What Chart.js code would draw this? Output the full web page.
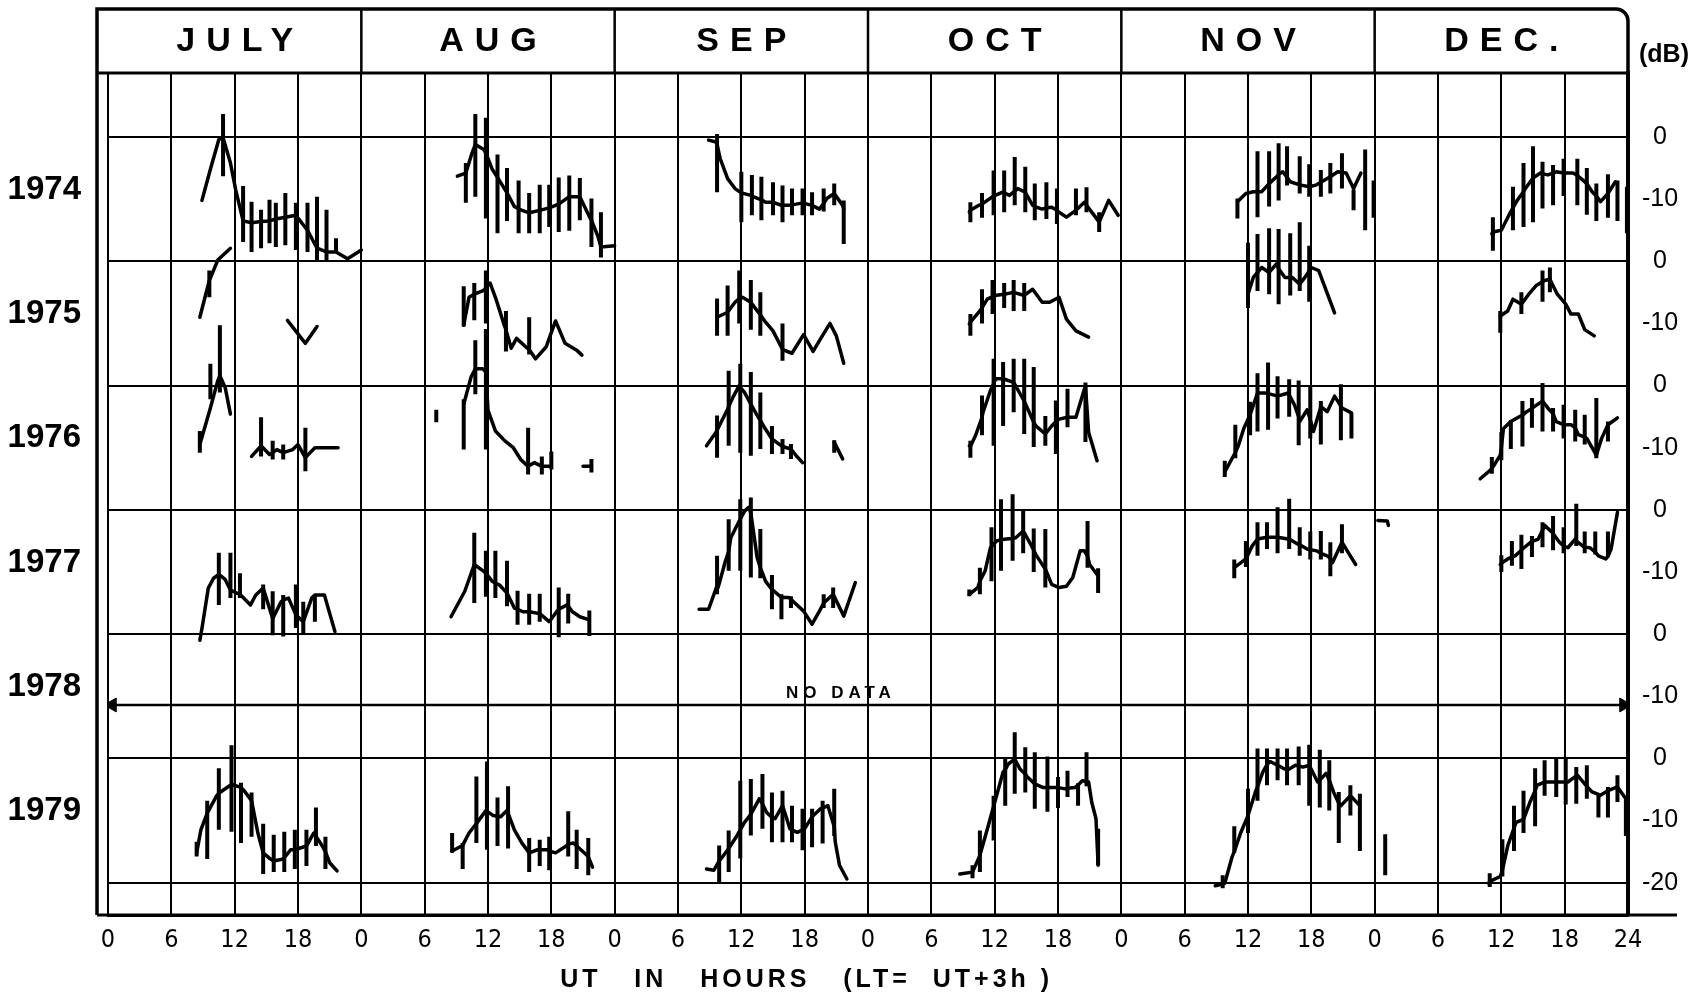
<!DOCTYPE html>
<html>
<head>
<meta charset="utf-8">
<script src="https://cdn.jsdelivr.net/npm/chart.js@4.4.0/dist/chart.umd.min.js"></script>
<style>
  html, body { margin: 0; padding: 0; background: #fff; }
  canvas { display: block; }
</style>
</head>
<body>
<canvas id="noiseChart" width="1704" height="997"></canvas>
<script>
const months = ['JULY', 'AUG', 'SEP', 'OCT', 'NOV', 'DEC.'];
const years = ['1974', '1975', '1976', '1977', '1978', '1979'];
const dbTickValues = [0, -10, -20, -30, -40, -50, -60, -70, -80, -90, -100, -110, -120];
const dbTickLabels = ['0', '-10', '0', '-10', '0', '-10', '0', '-10', '0', '-10', '0', '-10', '-20'];

// each row: [UT hour, mean dB, bar top dB, bar bottom dB]; null = pen lifted
const jul74 = [[8.9,-10.2],[9.7,-5.2],[10.5,-0.4],[10.9,-0.1,3.7,-6.3],[11.6,-4.2],[12.1,-8.5],[12.8,-13.5,-7.9,-16.9],[13.6,-13.8,-10.4,-18.5],[14.5,-13.6,-11.7,-17.9],[15.3,-13.5,-10.1,-17.1],[15.9,-13.2,-10.6,-17.7],[16.8,-12.9,-9,-17.4],[17.8,-12.6,-10.6,-18.2],[18.9,-15,-10.6,-18.5],[19.8,-17.9,-9.6,-19.8],[20.7,-18.5,-11.7,-19.8],[21.6,-18.5,-16.3,-18.6],[22.7,-19.6],[24,-18.2]];
const jul75 = [[8.7,-9],[9.6,-3.1,-1.5,-5.8],[10.4,0.2],[11.6,2.1],null,[17,-9.5],[18.7,-13.2],[19.8,-10.5]];
const jul76 = [[8.7,-9.5,-7.3,-10.8],[9.7,-3.6,3.5,-2.2],[10.4,0.8],[10.6,1.6,9.7,-1.1],[11.1,-0.3],[11.6,-4.6],null,[13.6,-11.4],[14.5,-9.7,-5.1,-11.4],[15.3,-11.1],[15.6,-10.8,-8.9,-11.9],[16,-10.3],[16.6,-10.8,-9.5,-11.9],[17.5,-10.3],[18,-9.5],[18.7,-11.6,-6.8,-13.8],[19.6,-10],[20.5,-10],[21.8,-10]];
const jul77 = [[8.7,-21],[8.9,-19.1],[9.5,-12.6],[10,-11],[10.5,-10.4,-6.9,-15.3],[11.1,-11.2],[11.6,-12.9,-6.9,-14.2],[12.2,-13.4],[12.5,-13.6,-10.2,-14.2],[13.5,-15.3],[14,-13.7],[14.7,-12.6,-12,-16],[15.6,-17.5,-13.1,-20.2],[16.4,-14.8],[16.6,-14.5,-13.7,-20.4],[17.1,-14.2],[17.8,-16.9,-12,-19],[18.5,-18,-14.8,-19.9],[19.3,-14.2],[19.6,-13.7,-13.7,-18],[20.5,-13.7],[21.5,-19.6]];
const jul79 = [[8.4,-15.2,-13.4,-15.8],[8.8,-11.5],[9.4,-8.8,-6.8,-16.2],[10.3,-6],[10.5,-5.6,-1.6,-11.5],[11,-5],[11.7,-4.2,2.1,-11.8],[12.3,-4.5],[12.6,-4.7,-3.9,-13.6],[12.9,-5.2],[13.6,-6.8,-5.5,-12.6],[14.2,-12],[14.7,-15.2,-10.5,-18.6],[15.4,-16.2],[15.7,-16.5,-12.3,-18.3],[16.6,-16.2],[16.7,-16,-11.8,-18.3],[17.3,-14.7],[17.7,-14.7,-11.5,-17.8],[18.8,-14.1,-11.5,-17.3],[19.5,-12],[19.7,-12.5,-7.9,-14.1],[20.3,-14.1],[20.6,-15,-12.6,-17.8],[21,-16.8],[21.7,-18.1]];

const aug74 = [[9.1,-6.3],[9.9,-5.8,-4.2,-10.6],[10.5,-2.5],[10.8,-1.2,3.7,-9.6],[11.6,-2],[11.8,-2.6,3.1,-13.1],[12.4,-5.2],[12.9,-6.5,-2.8,-15.5],[13.8,-9,-5,-13.5],[14.5,-11.2],[14.9,-11.6,-7,-15.5],[15.9,-12.2,-9,-15.5],[16.9,-11.8,-7.7,-15.5],[17.8,-11.4,-7.7,-14.5],[18.7,-10.8,-6.5,-15.3],[19.7,-9.6,-6.2,-15.1],[20.7,-9.6,-6.6,-13.4],[21.6,-12.8],[21.8,-13.4,-9.9,-17.7],[22.4,-15.9],[22.7,-17.7,-12.1,-19.4],[24,-17.5]];
const aug75 = [[9.7,-10.3,-4,-10.5],[10.2,-5.8],[10.7,-5.3,-3.5,-9.5],[11.6,-4.7],[11.8,-4.2,-1.5,-10],[12.2,-3.5],[12.7,-5.8],[13.1,-7.9],[13.5,-10.1],[13.7,-11,-8,-14.5],[14.2,-14],[14.7,-12.4],[15.6,-13.8],[15.9,-14.2,-9,-15],[16.5,-15.7],[17.5,-13.8],[18.4,-9.6],[19.3,-13.2],[20.4,-14.3],[20.9,-15.1]];
const aug76 = [[7.1,null,-3.9,-5.9],[9.7,-3,-2.2,-10.3],[10.4,1.4],[10.8,2.7,7.3,-1.4],[11.5,2.7],[11.8,2.2,9.1,-10.3],[12,-4],[12.7,-7.3],[13.6,-8.9],[14.4,-10],[15.1,-11.9],[15.8,-13,-6.8,-14.3],[16.4,-12.4],[17.1,-13,-11.4,-14.3],[18,-13,-10.6,-13.5],null,[21,-13],[21.8,-13,-11.8,-14]];
const aug77 = [[8.5,-17.2],[9.8,-13.1],[10.7,-8.8,-3.7,-15],[11.6,-9.9],[11.8,-10.2,-6.6,-14],[12.4,-11.5],[12.7,-11.8,-6.6,-14.2],[13.1,-12.1],[13.8,-13.4,-8.2,-15.5],[14.5,-15.8],[14.8,-16,-13,-18.5],[15.3,-16.4],[15.9,-16.4,-13.5,-18.5],[16.9,-16.7,-13.5,-18],[17.8,-18],[18.5,-16.4],[18.7,-16,-12.5,-20.5],[19.5,-15.3],[19.6,-15.5,-13.5,-18.3],[20,-16.4],[20.7,-17.2],[21.6,-17.7,-16.2,-20.3]];
const aug79 = [[8.6,-14.9,-12,-15.2],[9.5,-14.1],[9.6,-14,-13.6,-17.8],[10.2,-12],[10.9,-10.5,-2.9,-13.6],[11.8,-8.4],[11.9,-8.5,-0.5,-14.7],[12.5,-9.2],[12.9,-9.3,-6.3,-14.1],[13.2,-9.4],[13.8,-8.4],[13.9,-8.8,-4.5,-14.5],[14.5,-11.5],[15.2,-13.6],[15.9,-15.2,-12.8,-18.3],[16.7,-14.7],[16.9,-14.7,-13.1,-17.3],[17.6,-14.7],[17.8,-14.9,-12.6,-18],[18.4,-15.2],[19.4,-14.1],[19.6,-13.8,-8.5,-15.8],[20.1,-13.6],[20.4,-14.1,-11.5,-17.8],[20.8,-14.7],[21.5,-15.8,-12.8,-18.8],[21.9,-17.5]];

const sep74 = [[8.9,-0.5],[9.6,-0.8],[9.7,-1.2,0.5,-8.9],[10,-3.5],[10.7,-6.7],[11.4,-8.3],[12,-9,-5.6,-13.7],[12.9,-9.4],[13,-9.5,-6.1,-12.6],[13.6,-9.9],[13.9,-10.1,-6.4,-13.4],[14.3,-10.5],[15,-10.5,-7.3,-12.6],[15.8,-11],[15.9,-11,-7.8,-13.7],[16.5,-11],[16.8,-10.9,-8.3,-12.6],[17.2,-10.8],[17.8,-10.6,-8.3,-12.6],[18.7,-11,-8.9,-12.6],[19.4,-11.6],[19.8,-10.7,-8.3,-12],[20.1,-9.9],[20.8,-9.1,-7.5,-11],[21.6,-11],[21.7,-11.5,-10.2,-17.2]];
const sep75 = [[9.7,-9,-6,-12],[10.7,-8.2,-3.9,-12],[11.4,-6.6],[11.8,-6,-1.5,-10],[12.1,-5.8],[12.9,-6.6,-3,-11],[13.6,-8.2],[13.8,-8.6,-5,-12],[14.3,-9.8],[15,-11.2],[15.9,-14.2,-10,-16],[16.8,-14.8],[17.9,-11.8],[18.8,-14.5],[19.5,-12.5],[20.4,-10],[21,-12],[21.7,-16.4]];
const sep76 = [[8.7,-9.7],[9.6,-7.5],[9.7,-7.2,-4.8,-11.6],[10.7,-3.8],[10.8,-3.4,2.4,-9.7],[11.2,-1.9],[11.8,0],[11.9,-0.3,3.5,-10.8],[12.3,-1.1],[12.9,-3,2.2,-11.3],[13.6,-5.1],[13.8,-5.6,-1.1,-10.2],[14.1,-6.5],[14.9,-8.6,-6.5,-11],[15.8,-9.7],[15.9,-9.8,-8.6,-11],[16.7,-10.2,-9.4,-11.8],[17.2,-11.3],[17.8,-12.4],null,[20.8,-9.1,-8.8,-10.8],[21.6,-11.8]];
const sep77 = [[8,-16],[8.9,-16],[9.7,-12.2,-7.4,-13.6],[9.8,-12.5],[10.5,-8.2],[10.8,-6.7,-1.5,-9.8],[11,-4.5],[11.8,-1.8],[11.9,-1.5,1.7,-9.8],[12.3,-0.2],[12.7,0.4],[12.9,-0.5,2,-10.9],[13.5,-7.7],[13.8,-9.3,-3.1,-11],[14.3,-11.5],[14.9,-12.8,-10.5,-16],[15.8,-14.1,-13.6,-17.6],[16.5,-14.1],[16.7,-14.4,-13.9,-15.8],[17.2,-15.2],[17.9,-16.3],[18.7,-18.4],[19.4,-16.3],[19.8,-15,-13.6,-15.8],[20.7,-13.6,-12.5,-15.8],[21.7,-17.1],[22.8,-11.7]];
const sep79 = [[8.7,-17.8],[9.4,-18],[9.9,-16.5,-14,-19.9],[10.1,-16.1],[10.8,-14.5,-11.6,-18.3],[11.6,-12.4],[11.9,-11.5,-3.6,-16.1],[12.3,-10.3],[12.9,-9,-3.3,-12.4],[13.7,-6.5],[14,-7.3,-2.5,-11.3],[14.4,-8.7],[14.9,-9.5,-5.5,-13.5],[15.2,-9.7],[15.9,-7.6,-5.2,-13.5],[16.6,-11.3],[16.8,-11.5,-7.6,-13.5],[17.3,-11.9],[17.8,-11.5,-8.1,-14.8],[18,-11.3],[18.7,-9.4,-8.1,-14.3],[19.5,-8.1],[19.7,-8,-6.8,-13.7],[20.2,-7.6],[20.8,-11,-4.9,-12.5],[20.9,-13.5],[21.3,-17.2],[22,-19.4]];

const oct74 = [[9.6,-12.1],[9.7,-11.8,-10.5,-13.7],[10.5,-11],[10.8,-10.8,-9,-13],[11.3,-10.2],[11.9,-9.5,-5.4,-12.6],[12.7,-8.9],[12.9,-9,-5.4,-12.1],[13.4,-9.4],[13.9,-8.7,-3.2,-11],[14.2,-8.3],[14.9,-8.9,-4.8,-12.1],[15.6,-11],[15.8,-11.2,-7.5,-13.4],[16.5,-11.6],[16.9,-11.4,-7.3,-13.2],[17.4,-11.3],[17.9,-11.8,-8.3,-14],[18.1,-12.1],[18.8,-12.9],[19.7,-11.8,-8.3,-12.6],[20.5,-10.5],[20.7,-11,-8.1,-12.1],[21.2,-12.1],[21.9,-13.7,-12.1,-15.3],[22.8,-10.2],[23.7,-12.6]];
const oct75 = [[9.6,-10.1],[9.7,-9.8,-8.5,-12],[10.5,-8.2],[10.8,-7.5,-4.5,-10],[11.3,-6.1],[11.8,-5.7,-3,-8.5],[12,-5.5],[12.9,-5.3,-3.5,-7.5],[13.8,-5,-3,-8],[14.8,-5.5,-3.5,-8],[15.6,-4.5],[16.5,-6.6],[17.2,-6.6],[18.1,-5.8],[18.8,-9.3],[19.7,-11.2],[20.9,-12.2]];
const oct76 = [[9.6,-9.7],[9.7,-9.8,-8.9,-11.6],[10.2,-8],[10.8,-5.1,-1.6,-8],[10.9,-4.3],[11.6,-0.8],[11.9,0.3,4.3,-9.7],[12.1,1.1],[12.8,1.1,3.8,-6.5],[13.8,0.5,4.3,-4.3],[14.5,-1.6],[14.8,-2.5,4.3,-7.8],[15.2,-4],[15.7,-5.9,3,-9.9],[15.9,-6.5],[16.8,-7.8,-4.9,-9.7],[17.4,-6.5],[17.8,-5.8,-2.4,-11],[18.1,-5.4],[18.9,-5.1,-0.5,-6.7],[19.7,-5.1],[20.6,0,0.5,-9.1],[20.9,-7.5],[21.7,-12.1]];
const oct77 = [[9.6,-13.6,-12.8,-13.9],[10.4,-12.5],[10.6,-11.5,-9.3,-13.6],[11.1,-9.8],[11.6,-6.1],[11.7,-5.9,-2.8,-11.5],[12.2,-5],[12.6,-4.8,1.7,-9.8],[13.1,-4.7],[13.7,-4.6,2.5,-8.2],[14,-4.5],[14.7,-3.4,0.1,-7],[15.4,-5.5],[15.7,-6.5,-3,-10],[15.9,-7.2],[16.7,-9.3],[16.8,-9.5,-3.1,-12.5],[17.4,-12],[18.1,-12.5],[18.8,-12.3],[19.4,-10.9],[20.1,-6.6],[20.5,-6.6],[20.8,-7.5,-1.8,-9.3],[21,-8.8],[21.7,-10.4],[21.8,-10.6,-9.4,-13.4]];
const oct79 = [[8.7,-18.6],[9.9,-18.3,-17.2,-19.3],[10.6,-15.6,-11.6,-18.3],[11.4,-10.8],[11.9,-7.7,-6,-13.2],[12.1,-6.5],[12.8,-2.2],[13,-1.8,-0.1,-7.6],[13.3,-0.9],[13.9,-0.1,4.2,-5.7],[14.4,-1.7],[14.9,-2.5,1.8,-5.5],[15.1,-3],[15.8,-4.1,1,-8.1],[16.6,-4.7],[17,-4.7,0.3,-8.6],[17.3,-4.7],[18,-4.7,-3,-8],[18.7,-4.9],[18.9,-4.8,-2,-6.2],[19.6,-4.7],[19.9,-4.3,-4,-7.6],[20.3,-3.6],[20.7,-3.7,1,-4.5],[20.9,-3.8],[21.2,-7.1],[21.6,-9.7],[21.8,-17.2,-11.3,-17.2]];

const nov74 = [[11,-10.4,-9.9,-13.1],[11.8,-9.1],[12.5,-8.8],[12.9,-8.8,-2.3,-12.9],[13.3,-8.8],[14,-7.5,-2.3,-11.2],[14.7,-6.4],[14.9,-6,-1,-10.2],[15.3,-5.6],[15.7,-6.5,-1.5,-7.8],[16,-7.2],[16.9,-7.7,-3.1,-9.1],[17.8,-8,-4.4,-9.6],[18.5,-7.7],[18.9,-7.3,-5.3,-9.6],[19.8,-6.4,-4.2,-9.1],[20.5,-5.6],[20.9,-5.7,-2.6,-8.3],[21.3,-5.8],[22,-8.3,-8.5,-11.8],[22.7,-5.8],[23.1,null,-2,-15],[23.9,null,-7,-13]];
const nov75 = [[12,-5.3,3,-7.5],[12.5,-2.6],[12.9,-1.8,4.4,-4.8],[13.3,-1],[14,-1.8,5.3,-5.3],[14.7,-0.4],[14.9,-1.2,5.2,-6.9],[15.5,-2.6],[16,-2.6,4.5,-5.5],[16.2,-2.6],[16.9,-3.7,6.3,-4.8],[17.6,-2.1],[17.8,-1.5,2.5,-6.5],[18,-1],[18.7,-1.5],[20.2,-8.3]];
const nov76 = [[9.8,-13.9,-12.1,-14.7],[10.5,-11.7],[10.8,-10.8,-6.3,-11.7],[11.1,-9.6],[11.6,-6.9],[12.2,-4.7,-2.6,-8],[12.9,-1.2,2,-7.4],[13.6,-1.2],[13.9,-1.3,3.7,-7.1],[14.4,-1.5],[14.8,-1.7,1.5,-5.3],[15.8,-1.2],[15.9,-1.5,1,-5],[16.4,-3.1],[16.8,-5,0.8,-9.6],[16.9,-5.8],[17.6,-3.9],[17.9,-5.5,-0.1,-8.5],[18.2,-7.4],[18.9,-3.4,-2.5,-9.5],[19.5,-4.2],[20.2,-1.7],[20.8,-3.3,0.2,-8.8],[20.9,-3.6],[21.8,-4.4,-4.4,-8.5]];
const nov77 = [[10.7,-9.3,-8,-11],[11.8,-7.9,-5,-9.2],[12.4,-5.8],[12.9,-4.7,-2,-7.4],[13.8,-4.4,-2,-6.3],[14.7,-4.4],[14.8,-4.4,0.4,-7],[15.8,-4.7],[15.9,-4.7,1.8,-6.3],[16.7,-5.5],[16.9,-5.6,-2.8,-7.4],[17.6,-6.3],[17.9,-6.4,-3.5,-8],[18.5,-6.6],[18.9,-7,-3.4,-8],[19.5,-7.4],[19.8,-7.8,-5.2,-10.7],[20,-8.5],[20.9,-5.2,-2.3,-7],[21.5,-6.9],[22.2,-8.8]];
const nov79 = [[8.9,-20.5],[9.6,-20.2,-18.8,-20.9],[9.8,-20.1],[10.5,-15.8],[10.7,-15,-10.9,-15.2],[11.3,-12],[12,-9.2,-4.9,-12],[12.7,-5.4],[12.9,-4.6,1.6,-6.8],[13.4,-2.2],[13.8,-1,1.6,-4.3],[14.1,-0.5],[14.8,-1.1,1.6,-3.5],[15.7,-1.9,1.6,-4.3],[16.5,-1.1],[16.8,-1.2,1.9,-4.3],[17.2,-1.4],[17.8,-1.1,2.2,-7.6],[18.6,-3.8],[18.8,-3.5,1.4,-7.9],[19.4,-2.4],[19.7,-3.5,-0.3,-8.4],[20.1,-5.4],[20.6,-7.2,-5.4,-13.6],[20.8,-7.6],[21.7,-6,-4.3,-9.2],[22.6,-7.6,-5.7,-14.9]];

const dec74 = [[11.1,-15.6],[11.2,-15.3,-12.9,-18.3],[12,-15],[12.8,-12.3],[13.1,-11.4,-8,-15],[13.5,-10.2],[14.1,-8.8,-4.2,-14.5],[14.2,-8.5],[15,-6.6,-1.5,-13.7],[15.7,-5.8],[15.9,-5.9,-4,-11.5],[16.4,-6.1],[16.9,-5.8,-4.5,-11],[17.2,-5.6],[17.9,-5.8,-3.5,-9.5],[18.1,-5.8],[18.8,-5.8],[19.2,-6.2,-3.5,-11],[19.7,-6.9],[20.1,-7.5,-5,-12.5],[20.6,-8.8],[21,-9.5,-7.5,-13.5],[21.4,-10.4],[22.1,-9.1,-6,-13],[22.8,-7.2],[23,-7.5,-7,-13.5],[23.9,null,-8,-15.5]];
const dec75 = [[11.9,-8.8,-8,-11.5],[12.6,-8],[13.1,-6.1],[13.9,-6.9,-5,-8.5],[14.6,-5.3],[15.3,-3.9],[15.9,-3.3,-1.5,-6.5],[16.1,-3.1],[16.6,-2.9,-1,-5],[17.3,-5.3],[18.1,-6.9],[18.6,-8.5],[19.3,-8.5],[19.9,-11],[20.8,-12]];
const dec76 = [[10,-15],[11.1,-13.4,-11.5,-14.2],[11.9,-11.2],[12,-10,-7.5,-12],[12.2,-6.9],[12.9,-5.8,-5.6,-10.2],[13.7,-5],[14,-4.8,-2.5,-9.8],[14.4,-4.2],[14.9,-3.7,-2,-6.8],[15.1,-3.4],[15.9,-2.5,0.4,-7.4],[16.4,-3.6],[16.9,-4.5,-3.6,-7.4],[17.2,-5.8],[17.9,-6.3,-3.1,-8.5],[18.6,-6.3],[19,-6.8,-3.9,-9],[19.3,-7.9],[19.9,-8.3,-4.7,-9.5],[20.1,-8.5],[21,-11.2,-2,-11.7],[21.5,-8.5],[22.1,-6.3,-5.8,-9],[23,-5.2]];
const dec77 = [[0.3,-1.7],[1.2,-1.8],[1.3,-2.5],null,[11.9,-8.8],[12,-8.6,-7.3,-10],[12.6,-7.9],[13,-7.6,-5,-9],[13.3,-7.4],[13.9,-6.5,-4,-9.5],[14,-6.3],[14.8,-5.2],[14.9,-5.1,-4.2,-7.6],[15.5,-4.7],[15.9,-3.3,-2,-6],[16.1,-2.5],[16.8,-3.6],[16.9,-3.8,-1,-6.5],[17.5,-5.2],[17.9,-5.8,-2.8,-7],[18.3,-6.1],[19,-4.7],[19.1,-5,1,-5.8],[19.7,-5.8],[19.9,-6,-3.5,-7],[20.4,-6.1],[20.9,-6.8,-3.5,-7.2],[21.2,-7.4],[21.9,-7.9],[22.1,-7.5,-3.5,-7.5],[22.4,-6.3],[23,-0.4]];
const dec79 = [[1,null,-12.2,-18.8],[10.8,-20.1],[10.9,-19.8,-18.5,-20.7],[11.9,-19],[12.1,-18,-13,-19],[12.6,-14.1],[13.2,-11.2,-7.6,-14.9],[13.4,-10.3],[14.1,-9.8,-5.2,-12],[14.7,-7.1],[15.2,-5.2,-1.6,-10.9],[15.4,-4.3],[16.1,-3.8,-0.3,-6],[16.8,-3.8],[17.2,-3.8,0,-6.2],[17.6,-3.8],[18.1,-3.8,0,-7.4],[18.3,-3.8],[19.1,-2.8,-1.4,-7.3],[19.2,-2.7],[19.9,-4.1],[20.1,-4.5,-1.1,-6.5],[20.6,-5.4],[21.2,-5.8,-5.7,-9.5],[21.3,-6],[22.1,-5.2,-4.6,-9.5],[23,-4.6,-2.7,-7],[23.8,-6.5,-6,-12.5]];

// [month index, year index, rows]
const panels = [
  [0, 0, jul74], [0, 1, jul75], [0, 2, jul76], [0, 3, jul77], [0, 5, jul79],
  [1, 0, aug74], [1, 1, aug75], [1, 2, aug76], [1, 3, aug77], [1, 5, aug79],
  [2, 0, sep74], [2, 1, sep75], [2, 2, sep76], [2, 3, sep77], [2, 5, sep79],
  [3, 0, oct74], [3, 1, oct75], [3, 2, oct76], [3, 3, oct77], [3, 5, oct79],
  [4, 0, nov74], [4, 1, nov75], [4, 2, nov76], [4, 3, nov77], [4, 5, nov79],
  [5, 0, dec74], [5, 1, dec75], [5, 2, dec76], [5, 3, dec77], [5, 5, dec79]
];

// 1978: no data, arrow across the whole row
const noDataArrow = [[0.4, -11.4], [143.6, -11.4]];

const ROW_DB = 20;
const datasets = [];

panels.forEach(([mi, yi, rows]) => {
  const off = -ROW_DB * yi;
  const line = [];
  const bars = [];
  let lastX = 24 * mi;
  rows.forEach(r => {
    if (r === null) { line.push({x: lastX, y: null}); return; }
    const x = 24 * mi + r[0];
    lastX = x;
    line.push({x: x, y: r[1] === null ? null : off + r[1]});
    if (r.length > 2) {
      bars.push({x: x, y: off + r[2]}, {x: x, y: off + r[3]}, {x: x, y: null});
    }
  });
  datasets.push({
    data: line, borderColor: '#000', borderWidth: 3.5, pointRadius: 0,
    tension: 0, borderJoinStyle: 'round', borderCapStyle: 'round'
  });
  datasets.push({
    data: bars, borderColor: '#000', borderWidth: 4, pointRadius: 0,
    tension: 0, borderCapStyle: 'butt'
  });
});

datasets.push({
  data: noDataArrow.map(p => ({x: p[0], y: -ROW_DB * 4 + p[1]})),
  borderColor: '#000', backgroundColor: '#000', borderWidth: 2.5,
  pointStyle: 'triangle', pointRadius: 8, pointRotation: [-90, 90],
  pointBorderWidth: 1
});

const frame = {
  id: 'frame',
  afterDraw(chart) {
    const {ctx, chartArea: a, scales: {x, y}} = chart;
    const left = a.left - 11;
    const top = 9;
    ctx.save();
    ctx.strokeStyle = '#000';
    ctx.fillStyle = '#000';

    // outer frame and header box
    ctx.lineWidth = 3.5;
    ctx.beginPath();
    ctx.moveTo(left, a.bottom);
    ctx.lineTo(left, top);
    ctx.lineTo(a.right - 12, top);
    ctx.arcTo(a.right, top, a.right, top + 12, 12);
    ctx.lineTo(a.right, a.top);
    ctx.stroke();
    ctx.lineWidth = 3;
    ctx.beginPath();
    ctx.moveTo(left, a.top);
    ctx.lineTo(a.right, a.top);
    ctx.stroke();
    ctx.beginPath();
    ctx.moveTo(left, a.bottom);
    ctx.lineTo(a.right + 49, a.bottom);
    ctx.stroke();

    ctx.lineWidth = 2.5;
    for (let m = 1; m < months.length; m++) {
      const px = x.getPixelForValue(24 * m);
      ctx.beginPath();
      ctx.moveTo(px, top);
      ctx.lineTo(px, a.top);
      ctx.stroke();
    }

    ctx.textAlign = 'center';
    ctx.textBaseline = 'middle';
    ctx.font = 'bold 34px "Liberation Sans", sans-serif';
    ctx.letterSpacing = '11px';
    months.forEach((m, i) => {
      ctx.fillText(m, x.getPixelForValue(24 * i + 12) + 5.5, 42);
    });

    ctx.letterSpacing = '0px';
    ctx.font = 'bold 25px "Liberation Sans", sans-serif';
    ctx.fillText('(dB)', a.right + 36, 55);

    ctx.font = 'bold 17px "Liberation Sans", sans-serif';
    ctx.letterSpacing = '5px';
    ctx.fillText('NO DATA', x.getPixelForValue(69.2) + 2.5, y.getPixelForValue(-89.6));

    ctx.font = 'bold 25px "Liberation Sans", sans-serif';
    ctx.letterSpacing = '4px';
    ctx.fillText('UT   IN   HOURS   (LT=  UT+3h )', x.getPixelForValue(66) + 2, 980);
    ctx.restore();
  }
};

new Chart(document.getElementById('noiseChart'), {
  type: 'line',
  data: { datasets: datasets },
  options: {
    responsive: false,
    animation: false,
    devicePixelRatio: 1,
    layout: { padding: { top: 73, left: 0, right: 0, bottom: 0 } },
    plugins: { legend: { display: false }, tooltip: { enabled: false }, title: { display: false } },
    scales: {
      x: {
        type: 'linear', position: 'bottom', min: 0, max: 144,
        ticks: {
          stepSize: 6, autoSkip: false, maxRotation: 0, color: '#000', padding: 10,
          font: { family: "'Liberation Sans Narrow', 'DejaVu Sans Condensed', sans-serif", size: 25 },
          callback: v => v === 144 ? '24' : String(v % 24)
        },
        grid: { color: '#000', lineWidth: 2, drawTicks: false },
        border: { color: '#000', width: 3 },
        afterFit: s => { s.height = 82; }
      },
      y: {
        type: 'linear', position: 'right', min: -125.2, max: 10.3,
        afterBuildTicks: s => { s.ticks = dbTickValues.map(v => ({value: v})); },
        ticks: {
          color: '#000', crossAlign: 'center', padding: 14,
          font: { family: "'Liberation Sans', sans-serif", size: 25 },
          callback: (v, i) => dbTickLabels[i]
        },
        grid: {
          lineWidth: 2, drawTicks: false,
          color: c => (c.tick && c.tick.value % ROW_DB === 0) ? '#000' : 'rgba(0,0,0,0)'
        },
        border: { color: '#000', width: 4 },
        afterFit: s => { s.width = 76; }
      },
      yYear: {
        type: 'linear', position: 'left', min: -125.2, max: 10.3,
        afterBuildTicks: s => { s.ticks = years.map((yr, i) => ({value: -8.5 - ROW_DB * i})); },
        ticks: {
          color: '#000', crossAlign: 'center', padding: 19,
          font: { family: "'Liberation Sans', sans-serif", size: 33, weight: 'bold' },
          callback: (v, i) => years[i]
        },
        grid: { display: false },
        border: { display: false },
        afterFit: s => { s.width = 108; }
      }
    }
  },
  plugins: [frame]
});
</script>
</body>
</html>
